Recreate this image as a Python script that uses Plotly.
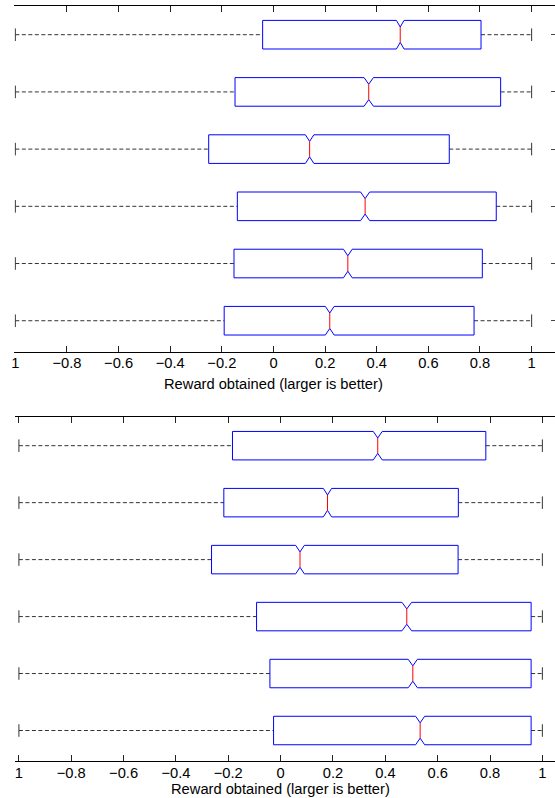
import math
import plotly.graph_objects as go

# ---- axis labels / ticks ----
tick_vals = [-1, -0.8, -0.6, -0.4, -0.2, 0, 0.2, 0.4, 0.6, 0.8, 1]
tick_text = ["1", "−0.8", "−0.6", "−0.4", "−0.2", "0", "0.2", "0.4", "0.6", "0.8", "1"]
x_title = "Reward obtained (larger is better)"

rows = [1, 2, 3, 4, 5, 6]

# ---- upper panel: box statistics per row ----
top_min = [-1.0, -1.0, -1.0, -1.0, -1.0, -1.0]
top_q1 = [-0.042, -0.149, -0.251, -0.140, -0.153, -0.191]
top_median = [0.491, 0.369, 0.140, 0.355, 0.288, 0.218]
top_q3 = [0.804, 0.880, 0.681, 0.863, 0.809, 0.777]
top_max = [1.0, 1.0, 1.0, 1.0, 1.0, 1.0]

# ---- lower panel: box statistics per row ----
bot_min = [-1.0, -1.0, -1.0, -1.0, -1.0, -1.0]
bot_q1 = [-0.184, -0.217, -0.264, -0.092, -0.041, -0.027]
bot_median = [0.371, 0.179, 0.074, 0.482, 0.505, 0.533]
bot_q3 = [0.784, 0.679, 0.678, 0.957, 0.957, 0.957]
bot_max = [1.0, 1.0, 1.0, 1.0, 1.0, 1.0]

n_samples = 8000  # observations behind each box (sets notch width)

BOX_HALF = 0.25      # half of box thickness (row units)
WAIST = 0.54         # box thickness kept at the median notch
CAP_HALF = 0.11      # half length of whisker end caps

FONT = "Liberation Sans, Arial, Helvetica, sans-serif"


def panel_traces(mins, q1s, meds, q3s, maxs, xa, ya):
    box_x, box_y = [], []
    med_x, med_y = [], []
    wh_x, wh_y = [], []
    cap_x, cap_y = [], []
    for pos, lo, q1, md, q3, hi in zip(rows, mins, q1s, meds, q3s, maxs):
        notch = 1.57 * (q3 - q1) / math.sqrt(n_samples)
        nlo, nhi = md - notch, md + notch
        a, b = pos - BOX_HALF, pos + BOX_HALF
        ma, mb = pos - BOX_HALF * WAIST, pos + BOX_HALF * WAIST
        box_x += [q1, nlo, md, nhi, q3, q3, nhi, md, nlo, q1, q1, None]
        box_y += [a, a, ma, a, a, b, b, mb, b, b, a, None]
        med_x += [md, md, None]
        med_y += [ma, mb, None]
        wh_x += [lo, q1, None, q3, hi, None]
        wh_y += [pos, pos, None, pos, pos, None]
        cap_x += [lo, lo, None, hi, hi, None]
        cap_y += [pos - CAP_HALF, pos + CAP_HALF, None,
                  pos - CAP_HALF, pos + CAP_HALF, None]
    common = dict(xaxis=xa, yaxis=ya, mode="lines", hoverinfo="skip",
                  showlegend=False)
    return [
        go.Scatter(x=wh_x, y=wh_y, line=dict(color="#333333", width=1, dash="4px,2.5px"), **common),
        go.Scatter(x=cap_x, y=cap_y, line=dict(color="#333333", width=1), **common),
        go.Scatter(x=box_x, y=box_y, line=dict(color="#0000ff", width=1), **common),
        go.Scatter(x=med_x, y=med_y, line=dict(color="#ff0000", width=1), **common),
    ]


fig = go.Figure()
for t in panel_traces(top_min, top_q1, top_median, top_q3, top_max, "x", "y"):
    fig.add_trace(t)
for t in panel_traces(bot_min, bot_q1, bot_median, bot_q3, bot_max, "x2", "y2"):
    fig.add_trace(t)

W, H = 555, 798

# pixel geometry of the two axes boxes
top_x0, top_scale = 271.95, 259.55
bot_x0, bot_scale = 279.15, 263.15
top_left_px, bot_left_px = 11.4, 12.4
top_y_px = (6.1, 351.5)
bot_y_px = (417.2, 760.7)


def xrange_for(x0, scale, left_px):
    return [(left_px - x0) / scale, (W - x0) / scale]


xaxis_common = dict(
    tickmode="array", tickvals=tick_vals, ticktext=tick_text,
    ticks="inside", ticklen=6, tickwidth=1, tickcolor="#222222",
    showline=True, linecolor="#000000", linewidth=1, mirror="ticks",
    showgrid=False, zeroline=False,
    tickfont=dict(family=FONT, size=14.7, color="#000000"),
)

fig.update_layout(
    width=W, height=H,
    margin=dict(l=0, r=0, t=0, b=0),
    paper_bgcolor="white", plot_bgcolor="white",
    xaxis=dict(domain=[top_left_px / W, 1],
               range=xrange_for(top_x0, top_scale, top_left_px),
               anchor="y", ticklabelstandoff=-2, **xaxis_common),
    yaxis=dict(domain=[1 - top_y_px[1] / H, 1 - top_y_px[0] / H],
               range=[6.538, 0.5], anchor="x", side="right",
               tickmode="array", tickvals=rows, ticks="inside", ticklen=4,
               tickcolor="#444444", showticklabels=False,
               showline=False, showgrid=False, zeroline=False),
    xaxis2=dict(domain=[bot_left_px / W, 1],
                range=xrange_for(bot_x0, bot_scale, bot_left_px),
                anchor="y2", ticklabelstandoff=-1, **xaxis_common),
    yaxis2=dict(domain=[1 - bot_y_px[1] / H, 1 - bot_y_px[0] / H],
                range=[6.53, 0.5], anchor="x2",
                ticks="", showticklabels=False,
                showline=False, showgrid=False, zeroline=False),
    annotations=[
        dict(text=x_title, xref="x", x=0, yref="paper", y=1 - 384.5 / H,
             xanchor="center", yanchor="middle", showarrow=False,
             font=dict(family=FONT, size=14.7, color="#000000")),
        dict(text=x_title, xref="x2", x=0, yref="paper", y=1 - 788.5 / H,
             xanchor="center", yanchor="middle", showarrow=False,
             font=dict(family=FONT, size=14.7, color="#000000")),
    ],
)

fig.write_html("out.html")
